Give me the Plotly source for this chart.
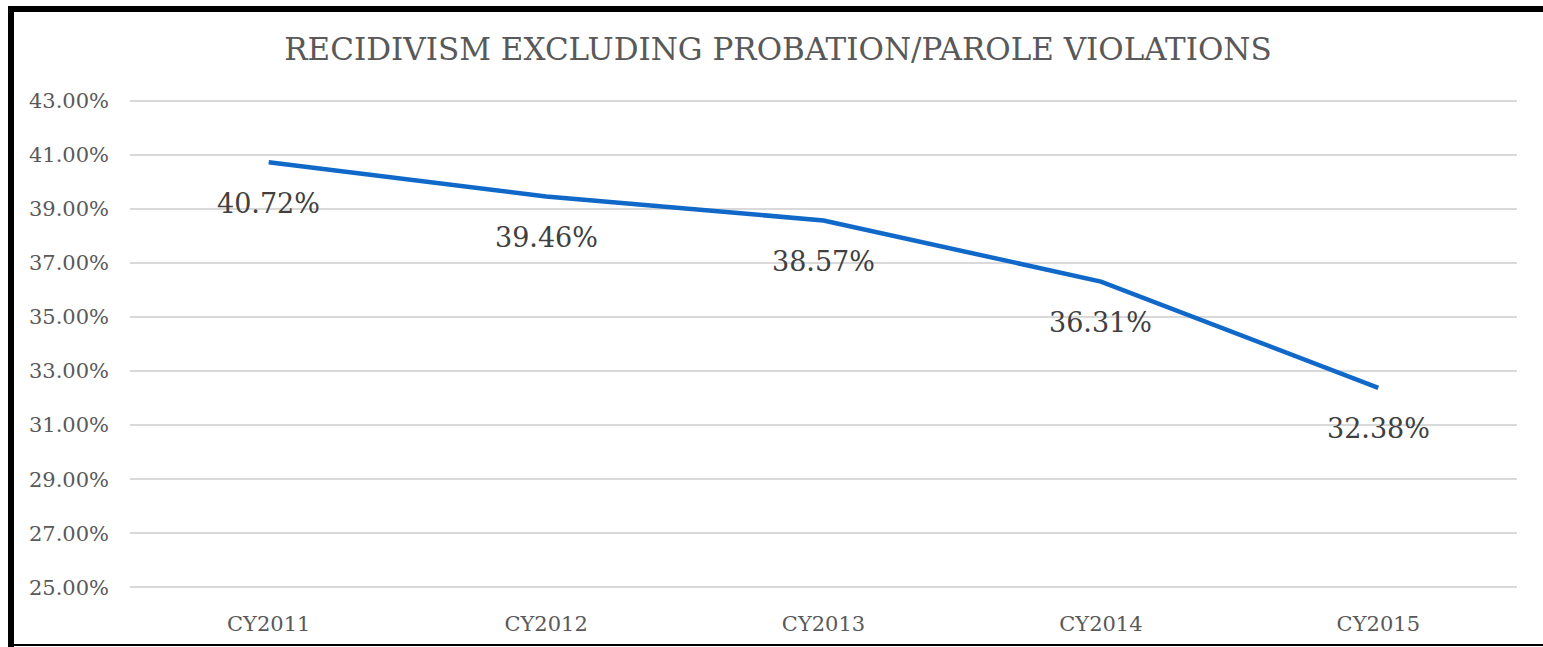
import plotly.graph_objects as go

years = ["CY2011", "CY2012", "CY2013", "CY2014", "CY2015"]
recidivism = [40.72, 39.46, 38.57, 36.31, 32.38]
y_ticks = [25, 27, 29, 31, 33, 35, 37, 39, 41, 43]

W, H = 1543, 647
L, R, T, B = 130, 26, 98, 57
serif = "DejaVu Serif"


def px_x(p):
    # page pixel -> paper x
    return (p - L) / (W - L - R)


def px_y(p):
    return (H - B - p) / (H - T - B)


fig = go.Figure()
fig.add_trace(go.Scatter(x=years, y=recidivism, mode="lines",
                         line=dict(color="#1068C8", width=4.5),
                         hoverinfo="skip", showlegend=False))

for yr, v in zip(years, recidivism):
    fig.add_annotation(x=yr, y=v, text=f"{v:.2f}%", showarrow=False,
                       yshift=-41, font=dict(family=serif, size=27, color="#404040"))

fig.update_xaxes(range=[-0.5, 4.5], showgrid=False, showline=False, ticks="",
                 ticklabelstandoff=19,
                 tickfont=dict(family=serif, size=21, color="#595959"))
# pad the range a little so the 25% and 43% gridlines are drawn
fig.update_yaxes(range=[24.9, 43.1], tickvals=y_ticks,
                 ticktext=[f"{t:.2f}%" for t in y_ticks],
                 showgrid=True, gridcolor="#d9d9d9", gridwidth=1.5,
                 zeroline=False, showline=False, ticks="",
                 ticklabelstandoff=20,
                 tickfont=dict(family=serif, size=21, color="#595959"))

# the chart's black frame
frame = [
    (8, 6, 14, H + 5),
    (8, 6, W + 5, 12),
    (8, 644, W + 5, 646),
]
for x0, y0, x1, y1 in frame:
    fig.add_shape(type="rect", xref="paper", yref="paper",
                  x0=px_x(x0), x1=px_x(x1), y0=px_y(y0), y1=px_y(y1),
                  fillcolor="black", line_width=0, layer="above")

fig.update_layout(
    width=W, height=H,
    margin=dict(l=L, r=R, t=T, b=B),
    paper_bgcolor="white", plot_bgcolor="white",
    title=dict(text="RECIDIVISM EXCLUDING PROBATION/PAROLE VIOLATIONS",
               x=(280 + 1276) / 2 / W, xanchor="center", y=1 - 49 / H, yanchor="middle",
               font=dict(family=serif, size=31, color="#595959")),
)

fig.write_html("out.html", config={"displayModeBar": False},
               post_script="document.body.style.margin='0';document.body.style.overflow='hidden';")
